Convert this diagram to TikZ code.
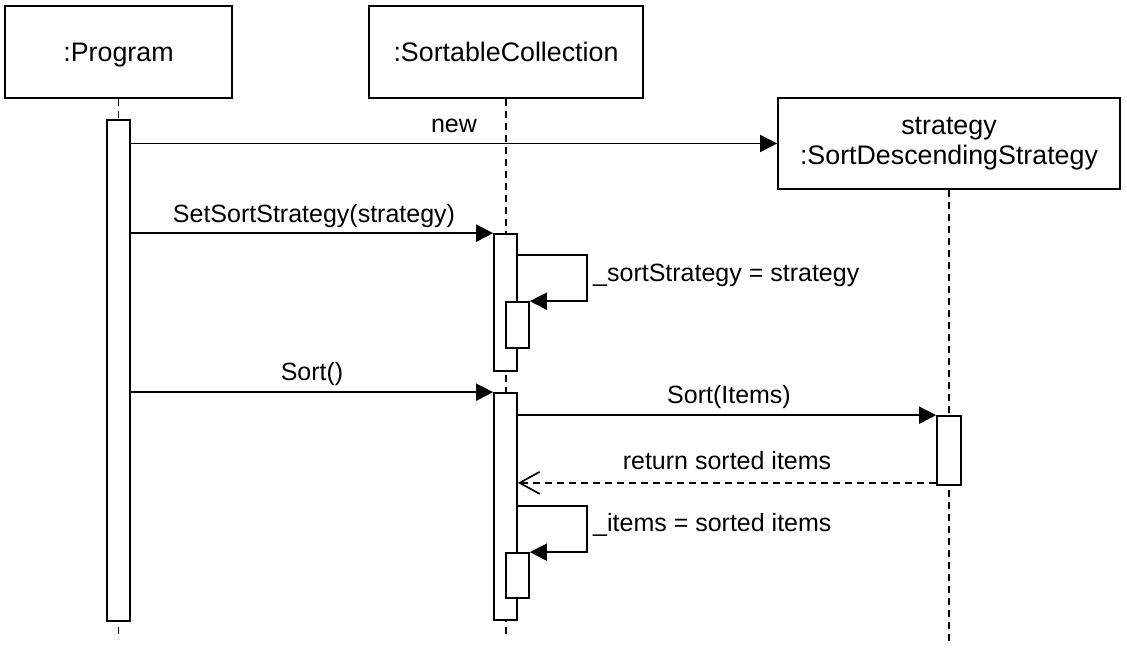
\documentclass[tikz,border=0pt]{standalone}
\usepackage{fontspec}
\setmainfont{Liberation Sans}
\usetikzlibrary{arrows.meta}

\begin{document}
\begin{tikzpicture}[x=1pt, y=-1pt,
    object/.style={draw, line width=1.7pt, rectangle, inner sep=0pt, align=center,
        font=\fontsize{26.8}{30}\selectfont},
    activation/.style={draw, line width=1.7pt, fill=white, rectangle, inner sep=0pt, minimum width=23pt},
    lifeline/.style={line width=1.7pt, dash pattern=on 7pt off 5pt},
    call/.style={line width=1.7pt, -{Triangle[length=17pt, width=17pt]}},
    reply/.style={line width=1.7pt, dash pattern=on 7pt off 5pt, -{Straight Barb[length=20pt, width=22pt]}},
    msglabel/.style={inner sep=0pt, font=\fontsize{25}{30}\selectfont}]

    \useasboundingbox (0,0) rectangle (1127,653);

    % Create objects
    \node[object, minimum width=227pt, minimum height=92pt, text height=19pt, text depth=0pt] (prog) at (118.5,52) {:Program};
    \node[object, minimum width=274pt, minimum height=92pt, text height=19pt, text depth=0pt] (coll) at (506,52) {:SortableCollection};
    \node[object, minimum width=342pt, minimum height=91pt] (strat) at (949,143.5) {strategy\\:SortDescendingStrategy};

    % Draw lifelines
    \coordinate (progEnd) at (118.5,637);
    \coordinate (collEnd) at (506,637);
    \coordinate (stratEnd) at (949,645);
    \draw[lifeline] (prog.south) -- (progEnd);
    \draw[lifeline] (coll.south) -- (collEnd);
    \draw[lifeline] (strat.south) -- (stratEnd);

    % Create activations
    \node[activation, minimum height=501pt] (progAct) at (118.5,370.5) {};
    \node[activation, minimum height=137pt] (collAct1) at (505.5,302.5) {};
    \node[activation, minimum height=46pt] (collSelf1) at (517.5,325) {};
    \node[activation, minimum height=227pt] (collAct2) at (505.5,506.5) {};
    \node[activation, minimum height=45pt] (collSelf2) at (517.5,575.5) {};
    \node[activation, minimum width=24pt, minimum height=69pt] (stratAct) at (949,450.5) {};

    % Draw messages
    \draw[call] (progAct.east |- strat.west) -- (strat.west);
    \draw[call] (progAct.east |- collAct1.north) -- (collAct1.north west);
    \draw[call] ([yshift=-22pt]collAct1.north east) -- ++(69,0) |- (collSelf1.north east);
    \draw[call] (progAct.east |- collAct2.north) -- (collAct2.north west);
    \draw[call] (collAct2.east |- stratAct.north) -- (stratAct.north west);
    \coordinate (ret) at ([yshift=3pt]stratAct.south west);
    \draw[reply] (ret) -- (collAct2.east |- ret);
    \draw[call] ([yshift=-114pt]collAct2.north east) -- ++(69,0) |- (collSelf2.north east);

    % Add message labels
    \node[msglabel, anchor=base] (newLbl) at (454,132) {new};
    \node[msglabel, anchor=base] (setLbl) at (314,222) {SetSortStrategy(strategy)};
    \node[msglabel, anchor=base west] (assignLbl) at (593,281) {\_sortStrategy = strategy};
    \node[msglabel, anchor=base] (sortLbl) at (312,380) {Sort()};
    \node[msglabel, anchor=base] (sortItemsLbl) at (729,403) {Sort(Items)};
    \node[msglabel, anchor=base] (retLbl) at (727,469) {return sorted items};
    \node[msglabel, anchor=base west] (itemsLbl) at (593,531) {\_items = sorted items};
\end{tikzpicture}
\end{document}
